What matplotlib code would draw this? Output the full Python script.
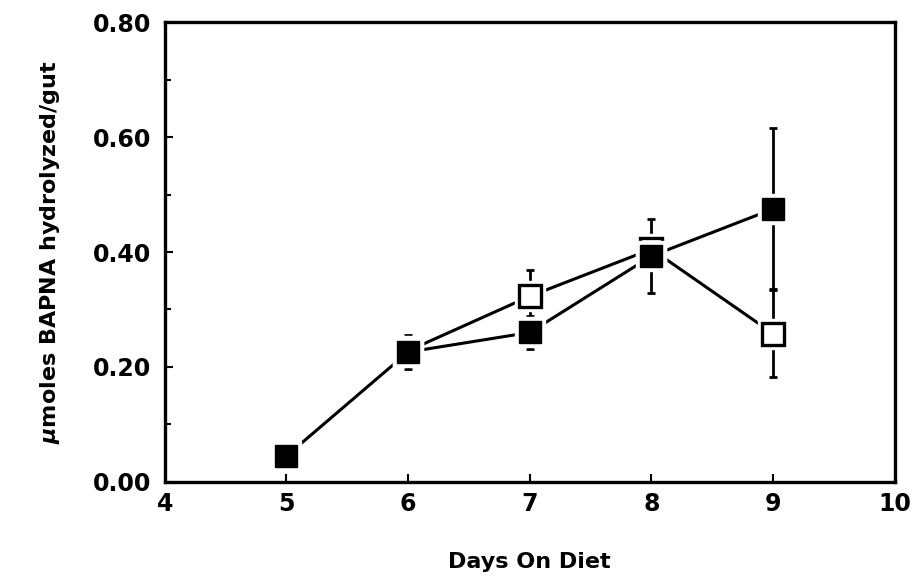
import numpy as np
import matplotlib.pyplot as plt
from matplotlib.ticker import MultipleLocator

# values
days_filled = [5, 6, 7, 8, 9]
gut_filled = [0.045, 0.226, 0.260, 0.393, 0.475]
err_filled = [0.0, 0.030, 0.028, 0.065, 0.140]

days_open = [6, 7, 8, 9]
gut_open = [0.228, 0.323, 0.405, 0.258]
err_open = [0.0, 0.046, 0.0, 0.076]

xticks = [4, 5, 6, 7, 8, 9, 10]
yticks = [0.0, 0.2, 0.4, 0.6, 0.8]

plt.rcParams['font.family'] = ['DejaVu Sans']
plt.rcParams['font.weight'] = 'bold'

fig = plt.figure(figsize=(9.15, 5.82), dpi=100)
ax = fig.add_axes([0.180, 0.172, 0.798, 0.790])

lw = 2.2
ms = 16

# lines
ax.plot(days_open, gut_open, color='black', lw=lw, zorder=1)
ax.plot(days_filled, gut_filled, color='black', lw=lw, zorder=1)

# error bars
ax.errorbar(days_open, gut_open, yerr=err_open, fmt='none', ecolor='black',
            elinewidth=2, capsize=3, capthick=2, zorder=2)
ax.errorbar(days_filled, gut_filled, yerr=err_filled, fmt='none', ecolor='black',
            elinewidth=2, capsize=3, capthick=2, zorder=2)

# white halo so lines stop short of markers
ax.plot(days_open, gut_open, 's', ms=ms + 6, color='white', mec='white', zorder=3)
ax.plot(days_open, gut_open, 's', ms=ms, mfc='white', mec='black', mew=2.4, zorder=4)
ax.plot(days_filled, gut_filled, 's', ms=ms + 6, color='white', mec='white', zorder=5)
ax.plot(days_filled, gut_filled, 's', ms=ms, mfc='black', mec='black', mew=1, zorder=6)

ax.set_xlim(4, 10)
ax.set_ylim(0, 0.8)
ax.set_xticks(xticks)
ax.set_xticklabels([str(t) for t in xticks])
ax.set_yticks(yticks)
ax.set_yticklabels([f'{t:.2f}' for t in yticks])
ax.yaxis.set_minor_locator(MultipleLocator(0.1))

ax.tick_params(axis='both', which='both', direction='in', width=1.5,
               labelsize=17, top=False, right=False)
ax.tick_params(axis='both', which='major', length=6)
ax.tick_params(axis='y', which='minor', length=4)
ax.tick_params(axis='x', pad=7)
ax.tick_params(axis='y', pad=10)
for lab in ax.get_xticklabels() + ax.get_yticklabels():
    lab.set_fontweight('bold')

for sp in ax.spines.values():
    sp.set_linewidth(2.4)

ax.set_xlabel('Days On Diet', fontsize=16, fontweight='bold', labelpad=26)
ax.set_ylabel(r'$\mu$moles BAPNA hydrolyzed/gut', fontsize=16,
              fontweight='bold', labelpad=22)

fig.savefig('out.png', dpi=100)
